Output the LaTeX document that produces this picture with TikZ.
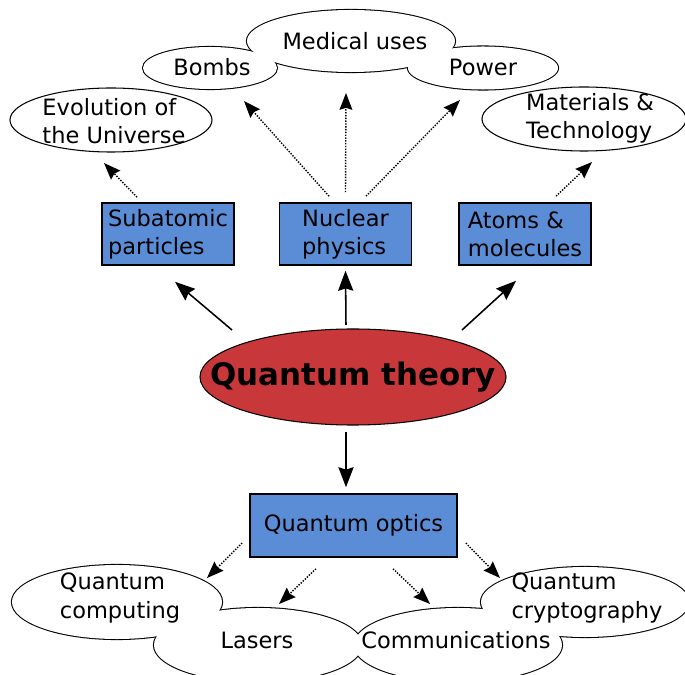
\documentclass[tikz,border=0pt]{standalone}
\usepackage{fontspec}
\setmainfont{DejaVu Sans}
\usetikzlibrary{shapes.geometric,arrows.meta,calc}
\definecolor{boxblue}{RGB}{91,141,214}
\definecolor{theoryred}{RGB}{200,55,58}
\begin{document}
\begin{tikzpicture}[x=0.025cm,y=-0.025cm,
  box/.style={draw,line width=1.1pt,fill=boxblue,minimum width=3.3cm,minimum height=1.55cm,inner sep=0pt,align=left,font=\fontsize{16}{20}\selectfont},
  cloud/.style={ellipse,draw,line width=1.5pt,fill=white,inner sep=0pt,outer sep=0pt},
  oval/.style={ellipse,draw,line width=0.75pt,fill=white,inner sep=0pt,outer sep=0pt},
  txt/.style={align=left,font=\fontsize{16}{20}\selectfont},
  strong/.style={line width=1.1pt,-{Stealth[length=0.5cm,width=0.38cm,inset=0.06cm]}},
  weak/.style={line width=1pt,dash pattern=on 1pt off 1pt,-{Stealth[length=0.42cm,width=0.32cm,inset=0.05cm]}}]
\useasboundingbox (0,0) rectangle (685,675);
\node[cloud,minimum width=3.35cm,minimum height=1.05cm] (bomb) at (210,68) {};
\node[cloud,minimum width=3.75cm,minimum height=1.075cm] (pow) at (483,68) {};
\node[cloud,minimum width=5.2cm,minimum height=1.55cm] (med) at (351,41) {};
\node[cloud,minimum width=5.25cm,minimum height=1.85cm] (qc) at (117,602) {};
\node[cloud,minimum width=5.2cm,minimum height=1.85cm] (las) at (258,645) {};
\node[cloud,minimum width=5.2cm,minimum height=1.85cm] (com) at (458,645) {};
\node[cloud,minimum width=5.2cm,minimum height=1.75cm] (cry) at (585,602) {};
\foreach \cn in {bomb,pow,med,qc,las,com,cry}
  \fill[white] let \p1=(\cn.east), \p2=(\cn.north), \p3=(\cn.center) in (\p3) ellipse [x radius=\x1-\x3, y radius=\y2-\y3];
\node[oval,minimum width=5.05cm,minimum height=1.6cm] (evo) at (111,120) {};
\node[oval,minimum width=5.1cm,minimum height=1.6cm] (mat) at (584,119) {};
\node[oval,fill=theoryred,minimum width=7.65cm,minimum height=2.4cm] (qt) at (353,377) {};
\node[box] (sub) at (168,234) {Subatomic\\particles};
\node[box] (nuc) at (345.5,234) {Nuclear\\physics};
\node[box] (atm) at (525,234) {Atoms \&\\molecules};
\node[box,minimum width=5.175cm,minimum height=1.575cm] (qo) at (353.5,525.5) {Quantum optics};
\node[txt] (bombtxt) at (212,67) {Bombs};
\node[txt] (medtxt) at (355,41) {Medical uses};
\node[txt] (powtxt) at (483,67) {Power};
\node[txt] (evotxt) at (114,121) {Evolution of\\the Universe};
\node[txt] (mattxt) at (590,118) {Materials \&\\Technology};
\node[txt] (qctxt) at (120,598) {Quantum\\computing};
\node[txt] (lastxt) at (257,640) {Lasers};
\node[txt] (comtxt) at (456,640) {Communications};
\node[txt] (crytxt) at (587,598) {Quantum\\cryptography};
\node[font=\fontsize{22}{26}\selectfont\bfseries] (qttxt) at (353,377) {Quantum theory};
\draw[strong] ([shift={(-121,-47)}]qt.center) -- ([shift={(7,16)}]sub.south);
\draw[strong] ([shift={(-7,-4)}]qt.north) -- ([shift={(0,5)}]nuc.south);
\draw[strong] ([shift={(109,-47)}]qt.center) -- ([shift={(-9,15)}]atm.south);
\draw[strong] ([shift={(-7,7)}]qt.south) -- ([shift={(-7.5,-6)}]qo.north);
\draw[weak] ([shift={(-31,-5)}]sub.north) -- ([shift={(-7,11)}]evo.south);
\draw[weak] ([shift={(-16.5,-6)}]nuc.north) -- ([shift={(34,12)}]bomb.south);
\draw[weak] ([shift={(0,-10)}]nuc.north) -- ([shift={(-5,21)}]med.south);
\draw[weak] ([shift={(20.5,-6)}]nuc.north) -- ([shift={(-23,10.5)}]pow.south);
\draw[weak] ([shift={(31,-6)}]atm.north) -- ([shift={(8,11)}]mat.south);
\draw[weak] ([shift={(-7,17.5)}]qo.west) -- ([shift={(90,-24)}]qc.center);
\draw[weak] ([shift={(-37.5,11)}]qo.south) -- ([shift={(21,-41)}]las.center);
\draw[weak] ([shift={(39.5,11)}]qo.south) -- ([shift={(-28,-41)}]com.center);
\draw[weak] ([shift={(8,17.5)}]qo.east) -- ([shift={(-85,-24)}]cry.center);
\end{tikzpicture}
\end{document}
